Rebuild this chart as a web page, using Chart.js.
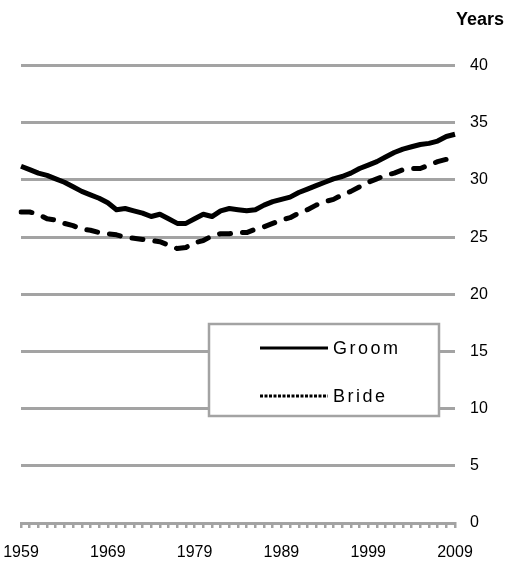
<!DOCTYPE html>
<html>
<head>
<meta charset="utf-8">
<script src="https://cdn.jsdelivr.net/npm/chart.js@4.4.0/dist/chart.umd.min.js"></script>
<style>
    html, body { margin: 0; padding: 0; background: #fff; }
    #wrap { width: 506px; height: 565px; }
</style>
</head>
<body>
<div id="wrap"><canvas id="ageChart" width="506" height="565"></canvas></div>
<script>
// Anos (categorias)
const anos = [
    '1959', '1960', '1961', '1962', '1963', '1964', '1965', '1966', '1967', '1968',
    '1969', '1970', '1971', '1972', '1973', '1974', '1975', '1976', '1977', '1978',
    '1979', '1980', '1981', '1982', '1983', '1984', '1985', '1986', '1987', '1988',
    '1989', '1990', '1991', '1992', '1993', '1994', '1995', '1996', '1997', '1998',
    '1999', '2000', '2001', '2002', '2003', '2004', '2005', '2006', '2007', '2008',
    '2009'
];

// Idade média - noivo
const groom = [
    31.2, 30.9, 30.6, 30.4, 30.1, 29.8, 29.4, 29.0, 28.7, 28.4,
    28.0, 27.4, 27.5, 27.3, 27.1, 26.8, 27.0, 26.6, 26.2, 26.2,
    26.6, 27.0, 26.8, 27.3, 27.5, 27.4, 27.3, 27.4, 27.8, 28.1,
    28.3, 28.5, 28.9, 29.2, 29.5, 29.8, 30.1, 30.3, 30.6, 31.0,
    31.3, 31.6, 32.0, 32.4, 32.7, 32.9, 33.1, 33.2, 33.4, 33.8,
    34.0
];

// Idade média - noiva
const bride = [
    27.2, 27.2, 27.0, 26.6, 26.5, 26.2, 26.0, 25.7, 25.6, 25.4,
    25.3, 25.2, 25.0, 24.9, 24.8, 24.7, 24.6, 24.3, 24.0, 24.1,
    24.5, 24.7, 25.1, 25.3, 25.3, 25.4, 25.4, 25.7, 25.9, 26.2,
    26.5, 26.7, 27.1, 27.4, 27.8, 28.1, 28.3, 28.7, 29.0, 29.4,
    29.8, 30.1, 30.4, 30.6, 30.9, 31.0, 31.0, 31.3, 31.6, 31.8,
    null
];

// Etiquetas dos eixos
const xTickLabels = ['1959', '1969', '1979', '1989', '1999', '2009'];
const yTicks = [0, 5, 10, 15, 20, 25, 30, 35, 40];

const CINZA = '#a3a3a3';
const FONTE = "'Liberation Sans', Arial, sans-serif";

// Legenda em caixa dentro da área do gráfico
const legendBox = {
    id: 'legendBox',
    afterDraw(chart) {
        const ctx = chart.ctx;
        const left = 209, top = 324, width = 230, height = 92;
        ctx.save();
        ctx.fillStyle = '#fff';
        ctx.fillRect(left, top, width, height);
        ctx.strokeStyle = CINZA;
        ctx.lineWidth = 2.5;
        ctx.strokeRect(left, top, width, height);

        const rows = [348, 396];
        chart.data.datasets.forEach((ds, i) => {
            const yy = rows[i];
            ctx.beginPath();
            ctx.strokeStyle = '#000';
            ctx.lineWidth = 3;
            ctx.setLineDash(ds.legendDash || []);
            ctx.moveTo(260, yy);
            ctx.lineTo(328, yy);
            ctx.stroke();
            ctx.setLineDash([]);
            ctx.fillStyle = '#000';
            ctx.font = '18px ' + FONTE;
            ctx.textBaseline = 'middle';
            ctx.textAlign = 'left';
            if ('letterSpacing' in ctx) ctx.letterSpacing = '2.5px';
            ctx.fillText(ds.label, 333, yy + 1);
        });
        ctx.restore();
    }
};

new Chart(document.getElementById('ageChart'), {
    type: 'line',
    data: {
        labels: anos,
        datasets: [
            {
                label: 'Groom',
                data: groom,
                borderColor: '#000',
                borderWidth: 5,
                borderJoinStyle: 'round',
                pointRadius: 0,
                tension: 0,
                legendDash: []
            },
            {
                label: 'Bride',
                data: bride,
                borderColor: '#000',
                borderWidth: 5,
                borderDash: [11, 12],
                borderCapStyle: 'round',
                borderJoinStyle: 'round',
                pointRadius: 0,
                tension: 0,
                legendDash: [3, 1.5]
            }
        ]
    },
    options: {
        responsive: false,
        animation: false,
        devicePixelRatio: 1,
        layout: { padding: { left: 0, right: 2, top: 5, bottom: 0 } },
        plugins: {
            legend: { display: false },
            tooltip: { enabled: false },
            title: {
                display: true,
                text: 'Years',
                align: 'end',
                color: '#000',
                font: { family: FONTE, size: 18, weight: 'bold' },
                padding: { top: 4, bottom: 35 }
            }
        },
        scales: {
            x: {
                offset: false,
                afterFit: (scale) => {
                    scale.paddingLeft = 21;
                    scale.paddingRight = 0;
                    scale.height = 42;
                },
                grid: {
                    display: true,
                    drawOnChartArea: false,
                    drawTicks: true,
                    tickLength: 5,
                    color: CINZA,
                    lineWidth: 2.5
                },
                border: { display: true, color: CINZA, width: 3 },
                ticks: {
                    autoSkip: false,
                    maxRotation: 0,
                    padding: 15,
                    color: '#000',
                    font: { family: FONTE, size: 16 },
                    callback: function (val) {
                        const lab = this.getLabelForValue(val);
                        return xTickLabels.includes(lab) ? lab : '';
                    }
                }
            },
            y: {
                position: 'right',
                min: 0,
                max: 40,
                afterBuildTicks: (scale) => {
                    scale.ticks = yTicks.map(v => ({ value: v }));
                },
                afterFit: (scale) => { scale.width = 49; },
                grid: { color: CINZA, lineWidth: 3, drawTicks: false },
                border: { display: false },
                ticks: {
                    padding: 15,
                    color: '#000',
                    font: { family: FONTE, size: 16 }
                }
            }
        }
    },
    plugins: [legendBox]
});
</script>
</body>
</html>
